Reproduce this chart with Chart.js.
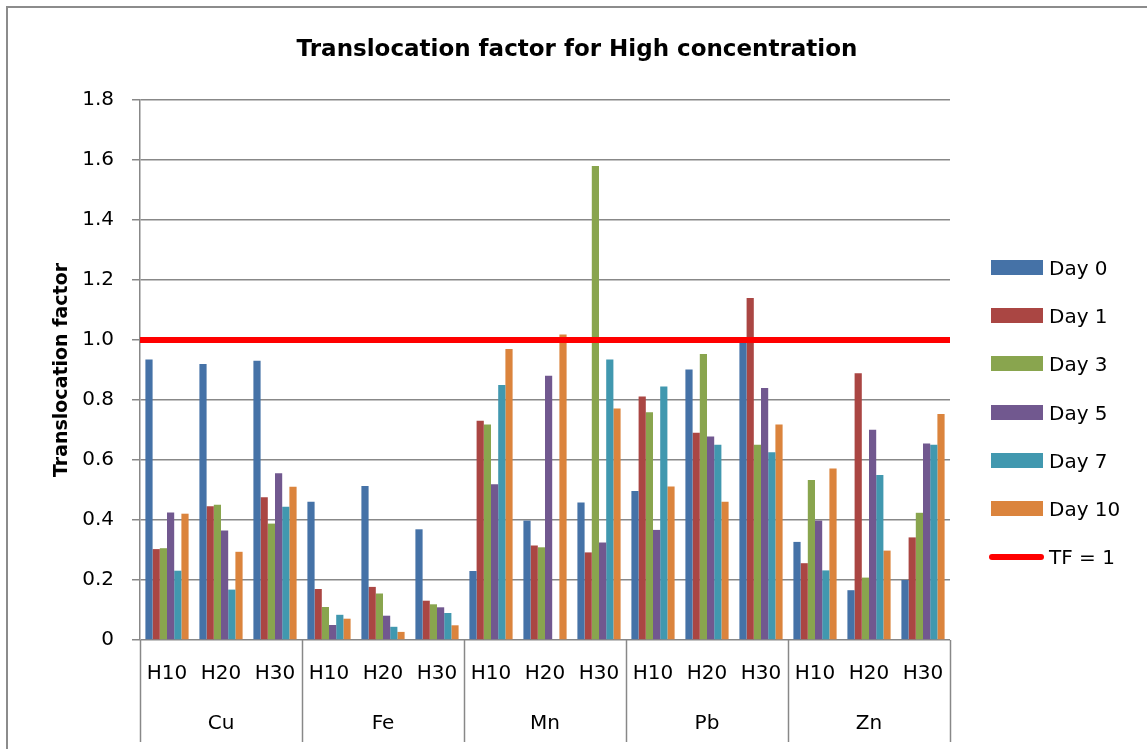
<!DOCTYPE html>
<html>
<head>
<meta charset="utf-8">
<script src="https://cdn.jsdelivr.net/npm/chart.js@4.4.0/dist/chart.umd.min.js"></script>
<style>
  body { margin: 0; background: #fff; font-family: "DejaVu Sans", sans-serif; }
  #wrap { position: relative; width: 1147px; height: 749px; overflow: hidden; }
  #frame { position: absolute; left: 6px; top: 6px; width: 1200px; height: 800px;
           border-left: 2px solid #8c8c8c; border-top: 2px solid #8c8c8c; }
  #title { position: absolute; left: 0; top: 35px; width: 1154px; text-align: center;
           font-weight: bold; font-size: 23px; color: #000; }
  #chartBox { position: absolute; left: 0; top: 0; width: 1147px; height: 749px; }
  .leg { position: absolute; left: 991px; height: 24px; font-size: 20px; color: #000; }
  .leg .sw { position: absolute; left: 0; width: 52px; height: 15px; top: 4px; }
  .leg .ln { position: absolute; left: -2px; width: 55px; height: 6px; top: 9px; border-radius: 3px; }
  .leg span.t { position: absolute; left: 58px; top: 0; white-space: nowrap; line-height: 24px; }
</style>
</head>
<body>
<div id="wrap">
  <div id="frame"></div>
  <div id="chartBox"><canvas id="tf"></canvas></div>
  <div id="title">Translocation factor for High concentration</div>
  <div id="legend"></div>
</div>
<script>
// categories
const groups = ['Cu', 'Fe', 'Mn', 'Pb', 'Zn'];
const levels = ['H10', 'H20', 'H30'];
const labels = [];
groups.forEach(() => levels.forEach(l => labels.push(l)));

// series values (Cu H10..H30, Fe, Mn, Pb, Zn)
const day0 = [0.935, 0.920, 0.931, 0.461, 0.513, 0.369, 0.230, 0.398, 0.458, 0.497, 0.902, 0.990, 0.327, 0.166, 0.200];
const day1 = [0.303, 0.446, 0.476, 0.170, 0.177, 0.131, 0.731, 0.315, 0.292, 0.812, 0.691, 1.140, 0.256, 0.889, 0.342];
const day3 = [0.306, 0.451, 0.388, 0.110, 0.155, 0.119, 0.718, 0.309, 1.580, 0.759, 0.953, 0.651, 0.533, 0.208, 0.424];
const day5 = [0.425, 0.365, 0.556, 0.050, 0.081, 0.109, 0.519, 0.881, 0.325, 0.367, 0.678, 0.840, 0.398, 0.701, 0.655];
const day7 = [0.231, 0.168, 0.444, 0.084, 0.044, 0.090, 0.850, 0, 0.935, 0.845, 0.651, 0.626, 0.232, 0.550, 0.651];
const day10 = [0.421, 0.294, 0.511, 0.071, 0.027, 0.049, 0.970, 1.018, 0.772, 0.512, 0.461, 0.718, 0.572, 0.298, 0.753];
const tfLevel = 1;

const seriesNames = ['Day 0', 'Day 1', 'Day 3', 'Day 5', 'Day 7', 'Day 10'];
const seriesData = [day0, day1, day3, day5, day7, day10];
const seriesColors = ['#4572A7', '#AA4643', '#89A54E', '#71588F', '#4198AF', '#DB843D'];

// y ticks
const yMin = 0, yMax = 1.8, yStep = 0.2;

const tickFont = { family: 'DejaVu Sans', size: 20 };
const gridGray = '#888888';

// separators below the category axis
const groupLines = {
  id: 'groupLines',
  afterDraw(chart) {
    const xs = chart.scales.x;
    const ctx = chart.ctx;
    const bottom = chart.chartArea.bottom;
    ctx.save();
    ctx.strokeStyle = gridGray;
    ctx.lineWidth = 1.5;
    for (let g = 0; g <= groups.length; g++) {
      const px = Math.round(xs.getPixelForValue(g * levels.length - 0.5)) + 0.5;
      ctx.beginPath();
      ctx.moveTo(px, bottom);
      ctx.lineTo(px, 742);
      ctx.stroke();
    }
    ctx.restore();
  }
};

// bars sit on a numeric x axis (category index), so the TF line can span the full width
const datasets = seriesNames.map((name, i) => ({
  type: 'bar',
  label: name,
  data: seriesData[i].map((v, j) => ({ x: j, y: v })),
  backgroundColor: seriesColors[i],
  xAxisID: 'x',
  yAxisID: 'y',
  order: 1
}));

datasets.push({
  type: 'line',
  label: 'TF = 1',
  data: [{ x: -0.5, y: tfLevel }, { x: labels.length - 0.5, y: tfLevel }],
  borderColor: '#FF0000',
  borderWidth: 6,
  pointRadius: 0,
  xAxisID: 'x',
  yAxisID: 'y',
  order: 0
});

new Chart(document.getElementById('tf').getContext('2d'), {
  type: 'bar',
  data: { datasets: datasets },
  options: {
    responsive: true,
    maintainAspectRatio: false,
    animation: false,
    datasets: { bar: { categoryPercentage: 0.8, barPercentage: 1.0 } },
    layout: { padding: { left: 0, top: 100, right: 197, bottom: 0 } },
    plugins: {
      legend: { display: false },
      tooltip: { enabled: false }
    },
    scales: {
      x: {
        type: 'linear',
        position: 'bottom',
        min: -0.5,
        max: labels.length - 0.5,
        offset: false,
        grid: { display: false },
        border: { display: false },
        afterBuildTicks: s => { s.ticks = labels.map((_, i) => ({ value: i })); },
        ticks: {
          font: tickFont, color: '#000', padding: 14, maxRotation: 0, autoSkip: false,
          callback: v => labels[v]
        },
        afterFit: s => { s.height = 54; }
      },
      x2: {
        type: 'category',
        position: 'bottom',
        labels: groups,
        offset: true,
        grid: { display: false },
        border: { display: false },
        ticks: { font: tickFont, color: '#000', padding: 10, maxRotation: 0 },
        afterFit: s => { s.height = 55; }
      },
      y: {
        min: yMin,
        max: yMax,
        ticks: { stepSize: yStep, font: tickFont, color: '#000', padding: 18 },
        grid: { color: gridGray, lineWidth: 1.5, tickLength: 8 },
        border: { color: gridGray, width: 1.5 },
        title: {
          display: true,
          text: 'Translocation factor',
          color: '#000',
          font: { family: 'DejaVu Sans', size: 19, weight: 'bold' },
          padding: { top: 51, bottom: 0 }
        },
        afterFit: s => { s.width = 140; }
      }
    }
  },
  plugins: [groupLines]
});

// legend on the right
const legendBox = document.getElementById('legend');
const legendItems = seriesNames.map((n, i) => ({ name: n, color: seriesColors[i], line: false }));
legendItems.push({ name: 'TF = 1', color: '#FF0000', line: true });
legendItems.forEach((it, i) => {
  const row = document.createElement('div');
  row.className = 'leg';
  row.style.top = (268 + i * 48.2 - 12) + 'px';
  const sw = document.createElement('div');
  sw.className = it.line ? 'ln' : 'sw';
  sw.style.background = it.color;
  const t = document.createElement('span');
  t.className = 't';
  t.textContent = it.name;
  row.appendChild(sw);
  row.appendChild(t);
  legendBox.appendChild(row);
});
</script>
</body>
</html>
